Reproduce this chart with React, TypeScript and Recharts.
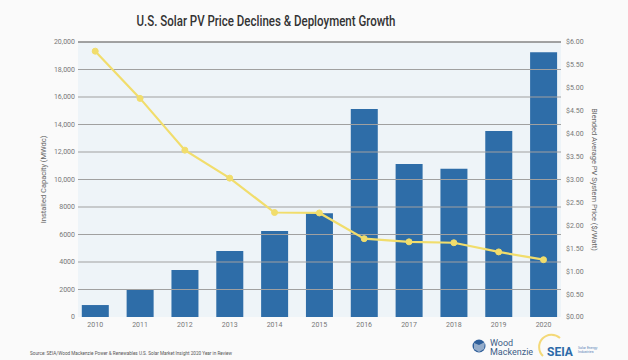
import {
  Bar,
  CartesianGrid,
  ComposedChart,
  Line,
  ReferenceLine,
  XAxis,
  YAxis
} from "recharts";

const years = [2010, 2011, 2012, 2013, 2014, 2015, 2016, 2017, 2018, 2019, 2020];
const capacity = [870, 2010, 3420, 4800, 6250, 7540, 15130, 11130, 10790, 13530, 19250];
const price = [5.8, 4.77, 3.64, 3.03, 2.28, 2.27, 1.71, 1.64, 1.62, 1.42, 1.25];

const capacityTicks = [0, 2000, 4000, 6000, 8000, 10000, 12000, 14000, 16000, 18000, 20000];
const priceTicks = [0, 0.5, 1, 1.5, 2, 2.5, 3, 3.5, 4, 4.5, 5, 5.5, 6];

const data = years.map((year, i) => ({ year, capacity: capacity[i], price: price[i] }));

const FONT = "Roboto, 'Noto Sans', sans-serif";
const tickStyle = { fontSize: 7, fill: "#777", fontFamily: FONT };

function formatCapacity(v: number) {
  return v >= 10000 ? v.toLocaleString("en-US") : String(v);
}

export default function App() {
  return (
    <div
      style={{
        position: "absolute",
        left: 0,
        top: 0,
        width: 628,
        height: 360,
        background: "#fafafa",
        fontFamily: FONT,
        overflow: "hidden"
      }}
    >
      <ComposedChart
        width={628}
        height={360}
        data={data}
        margin={{ top: 42, right: 17, bottom: 23, left: 38 }}
      >
        <CartesianGrid yAxisId="left" horizontal={false} vertical={false} fill="#eef4f8" />
        <XAxis
          dataKey="year"
          type="number"
          domain={[2009.616, 2020.39]}
          ticks={years}
          tickFormatter={(v) => String(v)}
          axisLine={false}
          tickLine={false}
          tickSize={0}
          tickMargin={5}
          height={20}
          tick={tickStyle}
        />
        <YAxis
          yAxisId="left"
          domain={[0, 20000]}
          ticks={capacityTicks}
          tickFormatter={(v) => formatCapacity(Number(v))}
          axisLine={false}
          tickLine={false}
          tickSize={0}
          tickMargin={3}
          width={40}
          tick={tickStyle}
          label={{
            value: "Installed Capacity (MWdc)",
            angle: -90,
            position: "insideLeft",
            offset: 5,
            style: { fontSize: 7.5, fill: "#666", fontFamily: FONT, textAnchor: "middle" }
          }}
        />
        <YAxis
          yAxisId="right"
          orientation="right"
          domain={[0, 6]}
          ticks={priceTicks}
          tickFormatter={(v) => `$${Number(v).toFixed(2)}`}
          axisLine={false}
          tickLine={false}
          tickSize={0}
          tickMargin={5}
          width={50}
          tick={tickStyle}
          label={{
            value: "Blended Average PV System Price ($/Watt)",
            angle: 90,
            position: "insideRight",
            offset: 16,
            style: { fontSize: 7.5, fill: "#666", fontFamily: FONT, textAnchor: "middle" }
          }}
        />
        {capacityTicks
          .filter((t) => t > 0)
          .map((t) => (
            <ReferenceLine
              key={t}
              yAxisId="left"
              y={t}
              stroke={t === 20000 ? "#858585" : "#a0a0a0"}
              strokeWidth={t === 20000 ? 1.6 : 1.1}
              ifOverflow="extendDomain"
            />
          ))}
        <Bar
          yAxisId="left"
          dataKey="capacity"
          fill="#2e6da8"
          barSize={27}
          isAnimationActive={false}
        />
        <Line
          yAxisId="right"
          dataKey="price"
          type="linear"
          stroke="#f1dd6c"
          strokeWidth={2.2}
          dot={{ r: 3, fill: "#f1dd6c", stroke: "#f1dd6c", strokeWidth: 1 }}
          isAnimationActive={false}
        />
      </ComposedChart>
      <svg
        width={628}
        height={360}
        style={{ position: "absolute", left: 0, top: 0, pointerEvents: "none" }}
      >
        <text
          x={266}
          y={26}
          textAnchor="middle"
          textLength={259}
          lengthAdjust="spacingAndGlyphs"
          fontSize={14}
          fontWeight={500}
          fill="#333"
          fontFamily={FONT}
        >
          U.S. Solar PV Price Declines &amp; Deployment Growth
        </text>
        <text
          x={30}
          y={355}
          textLength={202}
          lengthAdjust="spacingAndGlyphs"
          fontSize={5.5}
          fill="#555"
          fontFamily={FONT}
        >
          Source: SEIA/Wood Mackenzie Power &amp; Renewables U.S. Solar Market Insight 2020 Year in Review
        </text>
        {/* Wood Mackenzie logo */}
        <circle cx={479} cy={346} r={6.5} fill="#2f5f9a" />
        <path d="M474 343 L479 345 L485 342 L484 349 L479 352 L474 349 Z" fill="#fafafa" opacity={0.5} />
        <text x={490} y={346} fontSize={9} fill="#3d5d86" fontFamily={FONT}>
          Wood
        </text>
        <text x={490} y={355} fontSize={9} fill="#3d5d86" fontFamily={FONT}>
          Mackenzie
        </text>
        {/* SEIA logo */}
        <path d="M543 356 A12 12 0 0 1 560 338" stroke="#f4d978" strokeWidth={2} fill="none" />
        <text x={547} y={356} fontSize={12} fontWeight={700} fill="#2d6aa8" fontFamily={FONT}>
          SEIA
        </text>
        <text x={578} y={349} fontSize={3.5} fill="#5a86b8" fontFamily={FONT}>
          Solar Energy
        </text>
        <text x={578} y={353} fontSize={3.5} fill="#5a86b8" fontFamily={FONT}>
          Industries
        </text>
      </svg>
    </div>
  );
}
